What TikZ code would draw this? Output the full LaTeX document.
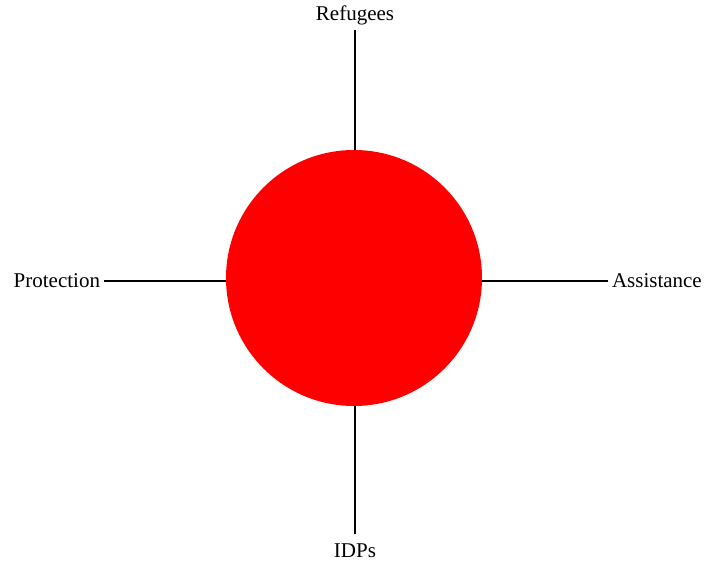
\documentclass[tikz,border=0pt]{standalone}
\usepackage{fontspec}
\setmainfont{Liberation Serif}
\begin{document}
\begin{tikzpicture}[x=1pt,y=-1pt,
  lbl/.style={font=\fontsize{21}{25}\selectfont, inner sep=0pt, outer sep=4pt, text=black},
  spoke/.style={draw=black, line width=2pt}]
\useasboundingbox (0,0) rectangle (707,564);
\node[circle, fill=red, minimum size=256pt, inner sep=0pt, outer sep=0pt] (c) at (354,278) {};
\node[lbl, anchor=base] (ref) at (355,21) {Refugees};
\node[lbl, anchor=base] (idp) at (355,557) {IDPs};
\node[lbl, anchor=east] (pro) at (104,281) {Protection};
\node[lbl, anchor=west] (ass) at (608,281) {Assistance};
\draw[spoke] (c.north -| ref.south) -- (ref.south);
\draw[spoke, shorten >=5pt] (c.south -| idp.north) -- (idp.north);
\draw[spoke] (c.west |- pro.east) -- (pro.east);
\draw[spoke] (c.east |- ass.west) -- (ass.west);
\end{tikzpicture}
\end{document}
